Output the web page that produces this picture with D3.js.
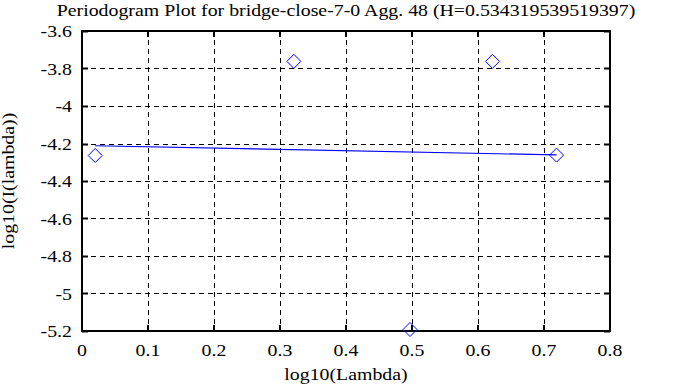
<!DOCTYPE html>
<html>
<head>
<meta charset="utf-8">
<script src="https://cdn.jsdelivr.net/npm/d3@7"></script>
<style>
  html, body { margin: 0; padding: 0; background: #fff; }
  svg { display: block; }
  text { font-family: "Liberation Serif", "Times New Roman", serif; fill: #000; }
</style>
</head>
<body>
<svg id="chart" width="688" height="387"></svg>
<script>
// ---- data ----
const titleText = "Periodogram Plot for bridge-close-7-0 Agg. 48 (H=0.534319539519397)";
const xLabel = "log10(Lambda)";
const yLabel = "log10(I(lambda))";
const logLambda = [0.020, 0.321, 0.497, 0.622, 0.719];
const logI = [-4.264, -3.762, -5.192, -3.762, -4.262];
const fitX = [0.020, 0.719];
const fitY = [-4.212, -4.261];
const xTicks = [0, 0.1, 0.2, 0.3, 0.4, 0.5, 0.6, 0.7, 0.8];
const yTicks = [-3.6, -3.8, -4, -4.2, -4.4, -4.6, -4.8, -5, -5.2];

// ---- layout ----
const L = 82, R = 610, T = 31, B = 331;
const FS = 16, SX = 1.24;
const svg = d3.select("#chart");
const x = d3.scaleLinear().domain([0, 0.8]).range([L, R]);
const y = d3.scaleLinear().domain([-5.2, -3.6]).range([B, T]);

function label(g, tx, ty, str, anchor, rot) {
  return g.append("text")
    .attr("transform", `translate(${tx},${ty})${rot ? " rotate(" + rot + ")" : ""} scale(${SX},1)`)
    .attr("text-anchor", anchor)
    .attr("font-family", "Liberation Serif")
    .attr("font-size", FS)
    .text(str);
}

// grid
const grid = svg.append("g").attr("stroke", "#000").attr("stroke-width", 1).attr("stroke-dasharray", "5,4");
grid.selectAll("line.gx").data(xTicks.slice(1, -1)).join("line")
  .attr("x1", d => Math.round(x(d)) + 0.5).attr("x2", d => Math.round(x(d)) + 0.5)
  .attr("y1", T).attr("y2", B);
grid.selectAll("line.gy").data(yTicks.slice(1, -1)).join("line")
  .attr("y1", d => Math.round(y(d)) + 0.5).attr("y2", d => Math.round(y(d)) + 0.5)
  .attr("x1", L).attr("x2", R);

// ticks (inside, all four sides)
const tk = 6;
const ticks = svg.append("g").attr("stroke", "#000").attr("stroke-width", 2);
xTicks.forEach(d => {
  const px = Math.round(x(d));
  ticks.append("line").attr("x1", px).attr("x2", px).attr("y1", B).attr("y2", B - tk);
  ticks.append("line").attr("x1", px).attr("x2", px).attr("y1", T).attr("y2", T + tk);
});
yTicks.forEach(d => {
  const py = Math.round(y(d)) + 0.5;
  ticks.append("line").attr("y1", py).attr("y2", py).attr("x1", L).attr("x2", L + tk);
  ticks.append("line").attr("y1", py).attr("y2", py).attr("x1", R).attr("x2", R - tk);
});

// frame
svg.append("rect").attr("x", L).attr("y", T).attr("width", R - L).attr("height", B - T)
  .attr("fill", "none").attr("stroke", "#000").attr("stroke-width", 2);

// tick labels
const gxl = svg.append("g");
xTicks.forEach(d => label(gxl, x(d), B + 25, String(d), "middle"));
const gyl = svg.append("g");
yTicks.forEach(d => label(gyl, L - 10, y(d) + 6, String(d), "end"));

// fit line
svg.append("line")
  .attr("x1", x(fitX[0])).attr("y1", y(fitY[0]))
  .attr("x2", x(fitX[1])).attr("y2", y(fitY[1]))
  .attr("stroke", "#0000ff").attr("stroke-width", 1.2);

// diamonds
const s = 7;
svg.append("g").selectAll("path").data(logLambda).join("path")
  .attr("d", (d, i) => {
    const cx = x(d), cy = y(logI[i]);
    return `M${cx},${cy - s}L${cx + s},${cy}L${cx},${cy + s}L${cx - s},${cy}Z`;
  })
  .attr("fill", "none").attr("stroke", "#0000ff").attr("stroke-width", 1);

// title & axis labels
label(svg, (L + R) / 2, 16, titleText, "middle");
label(svg, (L + R) / 2, 380, xLabel, "middle");
label(svg, 14, (T + B) / 2, yLabel, "middle", -90);
</script>
</body>
</html>
